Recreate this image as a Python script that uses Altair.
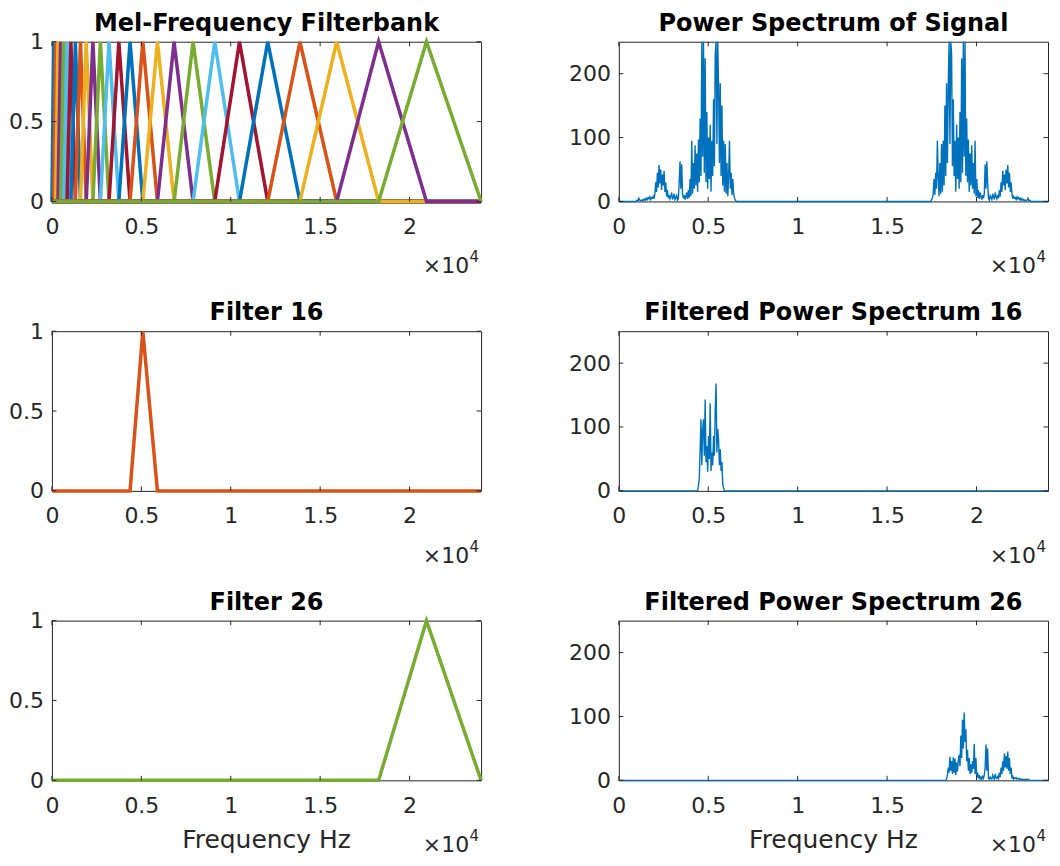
import altair as alt
import numpy as np
import pandas as pd

# ---------------- data ----------------
BIN_HZ = 46.875          # FFT bin spacing (fs = 48 kHz, 1024-point FFT)
N_BINS = 513             # bins 0 .. 24000 Hz
F_MAX = 24000

# mel filterbank edge frequencies (Hz), 26 triangular filters
mel_edges = [0, 99, 212, 340, 487, 654, 845, 1063, 1312, 1596, 1920, 2290,
             2711, 3193, 3742, 4369, 5084, 5900, 6831, 7893, 9106, 10489,
             12068, 13868, 15924, 18270, 20946, 24000]
filter_palette = ["#0072BD", "#D95319", "#EDB120", "#7E2F8E",
                  "#77AC30", "#4DBEEE", "#A2142F"]

# power spectrum, low band (starting at bin 21)
spec_low_start = 21
spec_low = [1, 2, 1, 5, 2, 1, 2, 1, 3, 2,
            4, 2, 5, 3, 6, 4, 7, 3, 6, 5,
            8, 4, 12, 30, 15, 45, 22, 57, 28, 50,
            18, 42, 25, 48, 15, 30, 8, 18, 5, 10,
            4, 8, 14, 3, 7, 12, 3, 6, 9, 2,
            4, 30, 63, 20, 58, 12, 5, 10, 3, 8,
            14, 4, 18, 6, 35, 8, 95, 12, 60, 20,
            88, 25, 75, 15, 97, 30, 130, 40, 300, 70,
            300, 45, 224, 30, 140, 20, 100, 35, 120, 15,
            95, 40, 160, 55, 230, 300, 90, 300, 180, 60,
            185, 40, 150, 25, 95, 15, 90, 12, 60, 8,
            40, 95, 20, 45, 10, 35, 12, 5, 2, 0]

# power spectrum, high band (starting at bin 372)
spec_high_start = 372
spec_high = [0, 2, 5, 12, 35, 10, 45, 20, 95, 40,
             8, 60, 12, 90, 15, 95, 25, 150, 40, 185,
             60, 180, 300, 90, 300, 230, 55, 160, 40, 95,
             15, 120, 35, 100, 20, 140, 30, 224, 45, 300,
             70, 300, 40, 130, 30, 97, 15, 75, 25, 88,
             20, 60, 12, 95, 8, 35, 6, 18, 4, 14,
             8, 3, 10, 5, 12, 58, 20, 63, 30, 4,
             2, 9, 6, 3, 12, 7, 3, 14, 8, 4,
             10, 5, 18, 8, 30, 15, 48, 25, 42, 18,
             50, 28, 57, 22, 45, 15, 30, 12, 4, 8,
             5, 6, 3, 7, 4, 6, 3, 5, 2, 4,
             2, 3, 1, 2, 1, 2, 5, 1, 2, 1]

# filtered power spectrum 16 (starting at bin 94)
filt16_start = 94
filt16 = [0, 8, 20, 65, 112, 40, 95, 112, 55, 143,
          45, 70, 30, 86, 50, 137, 31, 60, 40, 86,
          55, 127, 168, 60, 97, 80, 40, 65, 31, 45,
          10, 4, 0]

# filtered power spectrum 26 (starting at bin 390)
filt26_start = 390
filt26 = [0, 2, 8, 20, 12, 37, 15, 30, 10, 36,
          12, 34, 8, 28, 14, 32, 40, 22, 70, 35,
          95, 50, 106, 60, 80, 30, 48, 15, 35, 10,
          25, 12, 30, 18, 57, 10, 35, 5, 12, 3,
          8, 2, 5, 2, 6, 3, 8, 20, 56, 15,
          50, 3, 2, 5, 3, 2, 8, 4, 2, 10,
          4, 3, 6, 3, 12, 5, 20, 10, 30, 15,
          42, 20, 38, 18, 45, 15, 35, 10, 20, 3,
          6, 2, 4, 3, 4, 2, 3, 2, 3, 1,
          2, 1, 2, 1, 1, 2, 1, 1, 2, 1,
          0]

x_ticks = [0, 5000, 10000, 15000, 20000]
filter_y_ticks = [0, 0.5, 1]
power_y_ticks = [0, 100, 200]

# ---------------- styling ----------------
W, H = 430, 160
FONT = "DejaVu Sans"
AX = "#262626"
TICK_LEN = 4.5


def spectrum_df(segments):
    arr = np.zeros(N_BINS)
    for start, vals in segments:
        arr[start:start + len(vals)] = vals
    return pd.DataFrame({"freq": np.arange(N_BINS) * BIN_HZ, "power": arr})


def filters_df(ids):
    rows = []
    for j in ids:
        lo, mid, hi = mel_edges[j - 1], mel_edges[j], mel_edges[j + 1]
        for f, w in [(0, 0), (lo, 0), (mid, 1), (hi, 0), (F_MAX, 0)]:
            rows.append({"filter": j, "freq": f, "w": w})
    return pd.DataFrame(rows)


xscale = alt.Scale(domain=[0, F_MAX], nice=False, zero=False)
x_axis = alt.Axis(values=x_ticks, labelExpr="datum.value / 10000", title=None,
                  labelPadding=15, labelFlush=False, labelOverlap=False)


def y_axis(vals):
    return alt.Axis(values=vals, labelExpr="'' + datum.value", title=None,
                    labelPadding=8.5, labelFlush=False, labelOverlap=False)


def dummy():
    return alt.Chart(pd.DataFrame({"k": [0]}))


def decorations(yscale, yvals, title, xlabel):
    xt = alt.Chart(pd.DataFrame({"t": x_ticks}))
    yt = alt.Chart(pd.DataFrame({"t": yvals}))
    tick = dict(color=AX, strokeWidth=1)
    ya = y_axis(yvals)
    layers = [
        xt.mark_rule(**tick).encode(x=alt.X("t:Q", scale=xscale, axis=x_axis),
                                    y=alt.value(H), y2=alt.value(H - TICK_LEN)),
        xt.mark_rule(**tick).encode(x=alt.X("t:Q", scale=xscale, axis=x_axis),
                                    y=alt.value(0), y2=alt.value(TICK_LEN)),
        yt.mark_rule(**tick).encode(y=alt.Y("t:Q", scale=yscale, axis=ya),
                                    x=alt.value(0), x2=alt.value(TICK_LEN)),
        yt.mark_rule(**tick).encode(y=alt.Y("t:Q", scale=yscale, axis=ya),
                                    x=alt.value(W), x2=alt.value(W - TICK_LEN)),
        dummy().mark_text(text=title, font=FONT, fontSize=24, fontWeight="bold",
                          color="#000000", align="center", baseline="alphabetic"
                          ).encode(x=alt.value(W / 2), y=alt.value(-11)),
        dummy().mark_text(text="\u00d710", font=FONT, fontSize=22, color=AX,
                          align="right", baseline="alphabetic"
                          ).encode(x=alt.value(W - 12), y=alt.value(H + 72)),
        dummy().mark_text(text="4", font=FONT, fontSize=15, color=AX,
                          align="right", baseline="alphabetic"
                          ).encode(x=alt.value(W - 2), y=alt.value(H + 61)),
    ]
    if xlabel:
        layers.append(
            dummy().mark_text(text=xlabel, font=FONT, fontSize=25, color=AX,
                              align="center", baseline="alphabetic"
                              ).encode(x=alt.value(W / 2), y=alt.value(H + 68)))
    return layers


def filter_panel(ids, title, xlabel=None):
    yscale = alt.Scale(domain=[0, 1], nice=False)
    colors = [filter_palette[(j - 1) % len(filter_palette)] for j in ids]
    line = alt.Chart(filters_df(ids)).mark_line(strokeWidth=3.5).encode(
        x=alt.X("freq:Q", scale=xscale, axis=x_axis),
        y=alt.Y("w:Q", scale=yscale, axis=y_axis(filter_y_ticks)),
        color=alt.Color("filter:N", scale=alt.Scale(domain=ids, range=colors),
                        legend=None),
    )
    return alt.layer(line, *decorations(yscale, filter_y_ticks, title, xlabel)
                     ).properties(width=W, height=H)


def power_panel(segments, title, xlabel=None):
    yscale = alt.Scale(domain=[0, 250], nice=False, clamp=True)
    line = alt.Chart(spectrum_df(segments)).mark_line(
        strokeWidth=1.4, color="#0072BD").encode(
        x=alt.X("freq:Q", scale=xscale, axis=x_axis),
        y=alt.Y("power:Q", scale=yscale, axis=y_axis(power_y_ticks)),
    )
    return alt.layer(line, *decorations(yscale, power_y_ticks, title, xlabel)
                     ).properties(width=W, height=H)


all_ids = list(range(1, 27))
panels = [
    filter_panel(all_ids, "Mel-Frequency Filterbank"),
    power_panel([(spec_low_start, spec_low), (spec_high_start, spec_high)],
                "Power Spectrum of Signal"),
    filter_panel([16], "Filter 16"),
    power_panel([(filt16_start, filt16)], "Filtered Power Spectrum 16"),
    filter_panel([26], "Filter 26", "Frequency Hz"),
    power_panel([(filt26_start, filt26)], "Filtered Power Spectrum 26",
                "Frequency Hz"),
]

chart = alt.concat(
    *panels, columns=2, spacing={"row": 130, "column": 138}, bounds="flush"
).properties(
    padding={"left": 0, "top": 2, "right": 0, "bottom": 0},
    background="white"
).configure_view(
    stroke=AX, strokeWidth=1
).configure_axis(
    grid=False, domain=False, ticks=False,
    labelFont=FONT, labelFontSize=22, labelColor=AX,
)

chart.save("out.html", embed_options={"renderer": "svg", "actions": False})
